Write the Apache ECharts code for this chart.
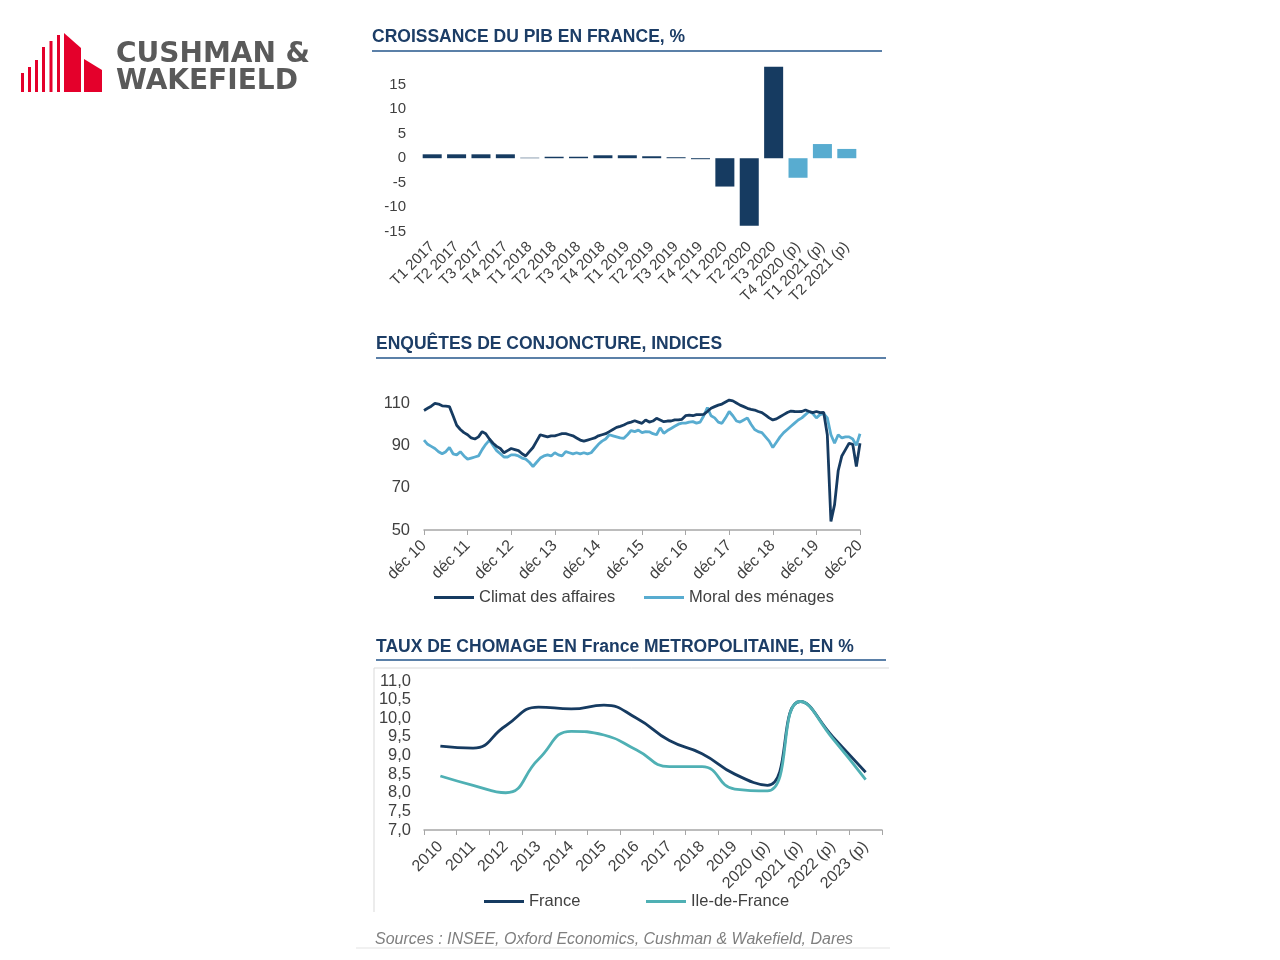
<!DOCTYPE html>
<html><head><meta charset="utf-8">
<script src="https://cdn.jsdelivr.net/npm/echarts@6/dist/echarts.min.js"></script>
<style>html,body{margin:0;padding:0;background:#fff}#c{width:1280px;height:960px}</style>
</head><body><div id="c"></div>
<script>
// ---------- DATA ----------
const pibCategories = ['T1 2017','T2 2017','T3 2017','T4 2017','T1 2018','T2 2018','T3 2018','T4 2018','T1 2019','T2 2019','T3 2019','T4 2019','T1 2020','T2 2020','T3 2020','T4 2020 (p)','T1 2021 (p)','T2 2021 (p)'];
const pibValues = [0.8, 0.8, 0.8, 0.8, 0.1, 0.3, 0.3, 0.6, 0.6, 0.4, 0.2, -0.2, -5.8, -13.8, 18.7, -4.0, 2.9, 1.9];
const pibTicks = [-15, -10, -5, 0, 5, 10, 15];

const monthNames = ['déc','janv','févr','mars','avr','mai','juin','juil','août','sept','oct','nov'];
const yearsShort = ['10','11','12','13','14','15','16','17','18','19','20'];
const climatAffaires = [
  106.5,
  107.5,108.5,109.8,109.5,108.7,108.5,108.3,104,99.5,97.5,96,95,
  93.5,93,94,96.5,95.5,93,91,89.5,88.5,86.5,87.5,88.5,
  88,87.5,86,85,87,89,92,95,94.5,94,94.5,94.5,
  95,95.5,95.5,95,94.5,93.5,92.5,92,92.5,93,93.5,94.5,
  95,95.5,96.5,97.5,98.5,99,99.6,100.5,101,101.6,101,100.4,
  102,101,101.5,102.8,102,101.2,101.5,101.5,102,102,102.3,104,
  104.3,104,104.5,104.5,104.6,106,107.5,108.3,109,109.5,110.5,111.4,
  111,110,109,108.3,107.5,107,106.7,106,105.5,104.3,103,102,
  102.5,103.5,104.5,105.5,106.2,106,105.9,106,106.7,106,105.5,106,
  105.5,105.6,95,54,62,78,85,88,91,90.5,80,91
];
const moralMenages = [
  92.5,
  90.5,89.5,88.5,87,86,87,89,86,85.5,87,85,83.5,
  84,84.5,85,88,90.5,92.5,90,87.5,86,84.5,84.5,85.5,
  85.5,85,84,83.5,82,80,82,84,85,85.5,85,86.5,
  85.5,85,87,86.5,86,86.5,86,86.5,86,86.5,88.5,90.5,
  92,93,95,94.5,94,93.5,93.3,95,97,96.5,97.2,96,
  96.5,96.4,95.5,95,98.3,95.7,97,98,99,100,100.5,100.5,
  101,101.2,100.5,101,104,107.8,104,103,101,100.4,103,106,
  104,101.5,101,102,103,100,97.5,96.5,96,94,92,89,
  91.5,94,96,97.5,99,100.5,102,103,104.5,106,105,103,
  104.5,105,103,95,91,95,93.5,94,94,93,90,95.5
];
const conjTicks = [50, 70, 90, 110];

const chomageYears = ['2010','2011','2012','2013','2014','2015','2016','2017','2018','2019','2020 (p)','2021 (p)','2022 (p)','2023 (p)'];
const chomageFrance = [9.25, 9.2, 9.8, 10.3, 10.25, 10.35, 10.0, 9.4, 9.05, 8.5, 8.2, 10.45, 9.5, 8.55];
const chomageIDF = [8.45, 8.2, 8.0, 8.9, 9.65, 9.55, 9.15, 8.7, 8.7, 8.1, 8.05, 10.45, 9.45, 8.35];
const chomageTicks = [7.0, 7.5, 8.0, 8.5, 9.0, 9.5, 10.0, 10.5, 11.0];

// ---------- BUILD ----------
const monthCategories = climatAffaires.map((_, i) => monthNames[i % 12] + ' ' + yearsShort[Math.floor((i + 11) / 12)]);

const NAVY = '#163b61';
const LIGHT = '#58acd0';
const TEAL = '#4fb0b4';
const TITLE = '#1c3d66';
const RULE = '#5b80a8';
const LABEL = '#404040';
const FONT = "'Liberation Sans', Arial, sans-serif";

const chart = echarts.init(document.getElementById('c'), null, {renderer: 'canvas'});

const titleText = (txt, x, y) => ({type: 'text', left: x, top: y, style: {text: txt, fill: TITLE, font: 'bold 17.5px ' + FONT}});
const rule = (x1, x2, y, c, w) => ({type: 'line', shape: {x1: x1, y1: y, x2: x2, y2: y}, style: {stroke: c, lineWidth: w}});
const legendItem = (name, x, y) => ({data: [name], left: x, top: y, padding: 0, icon: 'rect', itemWidth: 40, itemHeight: 3,
  textStyle: {color: LABEL, fontSize: 16.5, fontFamily: FONT}});

const option = {
  backgroundColor: '#ffffff',
  animation: false,
  textStyle: {fontFamily: FONT},
  graphic: [
    // logo
    {type: 'rect', shape: {x: 21, y: 73, width: 3, height: 19}, style: {fill: '#e4002b'}},
    {type: 'rect', shape: {x: 28, y: 67, width: 3, height: 25}, style: {fill: '#e4002b'}},
    {type: 'rect', shape: {x: 35, y: 60, width: 3, height: 32}, style: {fill: '#e4002b'}},
    {type: 'rect', shape: {x: 42, y: 47, width: 3, height: 45}, style: {fill: '#e4002b'}},
    {type: 'rect', shape: {x: 49.5, y: 41, width: 3, height: 51}, style: {fill: '#e4002b'}},
    {type: 'rect', shape: {x: 57, y: 35, width: 3, height: 57}, style: {fill: '#e4002b'}},
    {type: 'polygon', shape: {points: [[64, 92], [64, 33], [81, 48], [81, 92]]}, style: {fill: '#e4002b'}},
    {type: 'polygon', shape: {points: [[84, 92], [84, 59], [102, 70], [102, 92]]}, style: {fill: '#e4002b'}},
    {type: 'text', left: 116, top: 41, style: {text: 'CUSHMAN &', fill: '#5a5a5a', font: 'bold 28px ' + "'DejaVu Sans', sans-serif"}},
    {type: 'text', left: 116, top: 68, style: {text: 'WAKEFIELD', fill: '#5a5a5a', font: 'bold 28px ' + "'DejaVu Sans', sans-serif"}},
    // titles + rules
    titleText('CROISSANCE DU PIB EN FRANCE, %', 372, 28),
    rule(372, 882, 51, RULE, 2),
    titleText('ENQUÊTES DE CONJONCTURE, INDICES', 376, 335),
    rule(376, 886, 358, RULE, 2),
    titleText('TAUX DE CHOMAGE EN France METROPOLITAINE, EN %', 376, 638),
    rule(376, 886, 660, RULE, 2),
    // frame chart 3
    rule(374, 889, 668, '#d9d9d9', 1),
    {type: 'line', shape: {x1: 374, y1: 668, x2: 374, y2: 912}, style: {stroke: '#d9d9d9', lineWidth: 1}},
    // sources
    {type: 'text', left: 375, top: 932, style: {text: 'Sources : INSEE, Oxford Economics, Cushman & Wakefield, Dares', fill: '#7f7f7f', font: 'italic 16px ' + FONT}},
    rule(356, 890, 948, '#e3e3e3', 1)
  ],
  grid: [
    {left: 420, top: 60.5, width: 439, height: 171},
    {left: 424, top: 360.7, width: 436, height: 169.3},
    {left: 424, top: 681, width: 458, height: 149}
  ],
  xAxis: [
    {gridIndex: 0, type: 'category', data: pibCategories,
     axisLine: {show: false, onZero: false}, axisTick: {show: false},
     axisLabel: {rotate: 45, interval: 0, color: LABEL, fontSize: 15, margin: 13, fontFamily: FONT}},
    {gridIndex: 1, type: 'category', data: monthCategories, boundaryGap: false,
     axisLine: {show: true, lineStyle: {color: '#a6a6a6', width: 1.5}},
     axisTick: {show: true, interval: 11, length: 5, lineStyle: {color: '#a6a6a6'}},
     axisLabel: {rotate: 45, interval: 11, color: LABEL, fontSize: 16, margin: 13, fontFamily: FONT}},
    {gridIndex: 2, type: 'category', data: chomageYears, boundaryGap: true,
     axisLine: {show: true, lineStyle: {color: '#a6a6a6', width: 1.5}},
     axisTick: {show: true, length: 5, lineStyle: {color: '#a6a6a6'}},
     axisLabel: {rotate: 45, interval: 0, color: LABEL, fontSize: 16, margin: 14, fontFamily: FONT}}
  ],
  yAxis: [
    {gridIndex: 0, type: 'value', min: pibTicks[0], max: 20, interval: 5,
     axisLine: {show: false}, axisTick: {show: false}, splitLine: {show: false},
     axisLabel: {showMaxLabel: false, color: LABEL, fontSize: 15, margin: 14, fontFamily: FONT}},
    {gridIndex: 1, type: 'value', min: conjTicks[0], max: 130, interval: 20,
     axisLine: {show: false}, axisTick: {show: false}, splitLine: {show: false},
     axisLabel: {showMaxLabel: false, color: LABEL, fontSize: 16.5, margin: 14, fontFamily: FONT}},
    {gridIndex: 2, type: 'value', min: chomageTicks[0], max: chomageTicks[chomageTicks.length - 1], interval: 0.5,
     axisLine: {show: false}, axisTick: {show: false}, splitLine: {show: false},
     axisLabel: {color: LABEL, fontSize: 16.5, margin: 13, fontFamily: FONT,
       formatter: v => v.toFixed(1).replace('.', ',')}}
  ],
  legend: [
    legendItem('Climat des affaires', 434, 589),
    legendItem('Moral des ménages', 644, 589),
    legendItem('France', 484, 893),
    legendItem('Ile-de-France', 646, 893)
  ],
  series: [
    {type: 'bar', name: 'PIB', xAxisIndex: 0, yAxisIndex: 0, barCategoryGap: '22%',
     data: pibValues.map((v, i) => ({value: v, itemStyle: {color: pibCategories[i].indexOf('(p)') >= 0 ? LIGHT : NAVY}}))},
    {type: 'line', name: 'Climat des affaires', xAxisIndex: 1, yAxisIndex: 1, data: climatAffaires,
     showSymbol: false, symbol: 'none', lineStyle: {color: NAVY, width: 2.8}, itemStyle: {color: NAVY}, z: 3},
    {type: 'line', name: 'Moral des ménages', xAxisIndex: 1, yAxisIndex: 1, data: moralMenages,
     showSymbol: false, symbol: 'none', lineStyle: {color: LIGHT, width: 2.8}, itemStyle: {color: LIGHT}, z: 2},
    {type: 'line', name: 'France', xAxisIndex: 2, yAxisIndex: 2, data: chomageFrance, smooth: 0.5,
     showSymbol: false, symbol: 'none', lineStyle: {color: NAVY, width: 2.8}, itemStyle: {color: NAVY}, z: 2},
    {type: 'line', name: 'Ile-de-France', xAxisIndex: 2, yAxisIndex: 2, data: chomageIDF, smooth: 0.5,
     showSymbol: false, symbol: 'none', lineStyle: {color: TEAL, width: 2.8}, itemStyle: {color: TEAL}, z: 3}
  ]
};
chart.setOption(option);
</script>
</body></html>
